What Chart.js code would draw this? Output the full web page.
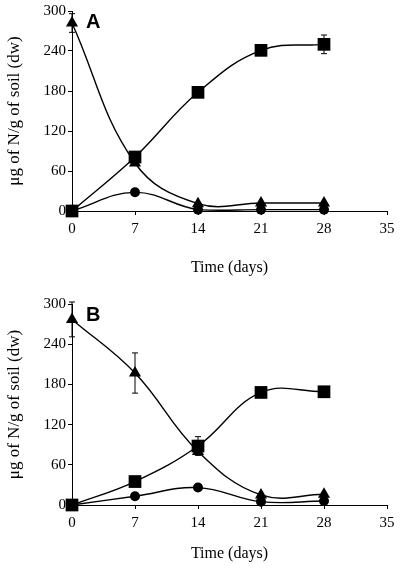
<!DOCTYPE html>
<html>
<head>
<meta charset="utf-8">
<script src="https://cdn.jsdelivr.net/npm/chart.js@4.4.0/dist/chart.umd.min.js"></script>
<style>
  body { margin: 0; background: #fff; }
  canvas { display: block; }
</style>
</head>
<body>
<canvas id="chartA" width="400" height="285"></canvas>
<canvas id="chartB" width="400" height="286"></canvas>
<script>
// data
const days = [0, 7, 14, 21, 28];
const xTicks = [0, 7, 14, 21, 28, 35];
const yTicks = [0, 60, 120, 180, 240, 300];

// panel A
const squareA = [0, 81, 178, 241, 250];
const triangleA = [282, 72, 11, 12, 12];
const circleA = [0, 28, 2, 2, 2];
const squareErrA = [0, 0, 0, 0, 14];
const triangleErrA = [14, 0, 0, 0, 0];
const circleErrA = [0, 0, 0, 0, 0];

// panel B
const squareB = [0, 35, 88, 168, 169];
const triangleB = [277, 197, 80, 15, 16];
const circleB = [0, 13, 26, 5, 6];
const squareErrB = [0, 0, 14, 0, 0];
const triangleErrB = [26, 30, 0, 0, 0];
const circleErrB = [0, 0, 0, 0, 0];

const serif = '"Liberation Serif", "Times New Roman", serif';

function points(values) {
  return values.map((v, i) => ({ x: days[i], y: v }));
}

// draws vertical error bars with caps, through the scales
const errorBars = {
  id: 'errorBars',
  afterDatasetsDraw(chart, args, opts) {
    const ctx = chart.ctx;
    const xs = chart.scales.x, ys = chart.scales.y;
    ctx.save();
    ctx.strokeStyle = '#000';
    ctx.lineWidth = 1;
    opts.sets.forEach(set => {
      set.vals.forEach((v, i) => {
        const e = set.err[i];
        if (!e) return;
        const px = xs.getPixelForValue(days[i]);
        const top = ys.getPixelForValue(v + e);
        const bot = ys.getPixelForValue(v - e);
        ctx.beginPath();
        ctx.moveTo(px, top); ctx.lineTo(px, bot);
        ctx.moveTo(px - 3, top); ctx.lineTo(px + 3, top);
        ctx.moveTo(px - 3, bot); ctx.lineTo(px + 3, bot);
        ctx.stroke();
      });
    });
    ctx.restore();
  }
};

// panel letter
const panelLetter = {
  id: 'panelLetter',
  afterDraw(chart, args, opts) {
    const ctx = chart.ctx;
    ctx.save();
    ctx.fillStyle = '#000';
    ctx.font = 'bold 20px "Liberation Sans", Arial, sans-serif';
    ctx.textBaseline = 'middle';
    ctx.fillText(opts.text, opts.x, opts.y);
    ctx.restore();
  }
};

function makeChart(id, sq, tri, cir, errSets, letter, topPad, xHeight) {
  return new Chart(document.getElementById(id), {
    type: 'line',
    data: {
      datasets: [
        { data: points(sq), pointStyle: 'rect', pointRadius: 9, order: 1 },
        { data: points(cir), pointStyle: 'circle', pointRadius: 5, order: 2 },
        { data: points(tri), pointStyle: 'triangle', pointRadius: 7, order: 3 }
      ]
    },
    options: {
      responsive: false,
      animation: false,
      clip: false,
      layout: { padding: { top: topPad, right: 13, left: 0, bottom: 0 } },
      elements: {
        line: { borderColor: '#000', borderWidth: 1.4, tension: 0.4, fill: false },
        point: { backgroundColor: '#000', borderColor: '#000', borderWidth: 0 }
      },
      plugins: {
        legend: { display: false },
        tooltip: { enabled: false },
        errorBars: { sets: errSets },
        panelLetter: { text: letter, x: 86, y: topPad + 11 }
      },
      scales: {
        x: {
          type: 'linear', min: 0, max: 35,
          afterBuildTicks: s => { s.ticks = xTicks.map(v => ({ value: v })); },
          afterFit: s => { s.height = xHeight; },
          grid: { drawOnChartArea: false, drawTicks: true, tickLength: 4, color: '#000' },
          border: { color: '#000', width: 1 },
          ticks: { color: '#000', font: { family: serif, size: 15 }, padding: 5, maxRotation: 0 },
          title: { display: true, text: 'Time (days)', color: '#000',
                   font: { family: serif, size: 16 }, padding: { top: 0, bottom: 8 } }
        },
        y: {
          min: 0, max: 300,
          afterBuildTicks: s => { s.ticks = yTicks.map(v => ({ value: v })); },
          afterFit: s => { s.width = 72; },
          grid: { drawOnChartArea: false, drawTicks: true, tickLength: 4, color: '#000' },
          border: { color: '#000', width: 1 },
          ticks: { color: '#000', font: { family: serif, size: 15 }, padding: 2 },
          title: { display: true, text: 'μg of N/g of soil (dw)', color: '#000',
                   font: { family: serif, size: 17 }, padding: { top: 4, bottom: 0 } }
        }
      }
    },
    plugins: [errorBars, panelLetter]
  });
}

makeChart('chartA', squareA, triangleA, circleA, [
  { vals: squareA, err: squareErrA },
  { vals: triangleA, err: triangleErrA },
  { vals: circleA, err: circleErrA }
], 'A', 11, 74);

makeChart('chartB', squareB, triangleB, circleB, [
  { vals: squareB, err: squareErrB },
  { vals: triangleB, err: triangleErrB },
  { vals: circleB, err: circleErrB }
], 'B', 19, 66);
</script>
</body>
</html>
